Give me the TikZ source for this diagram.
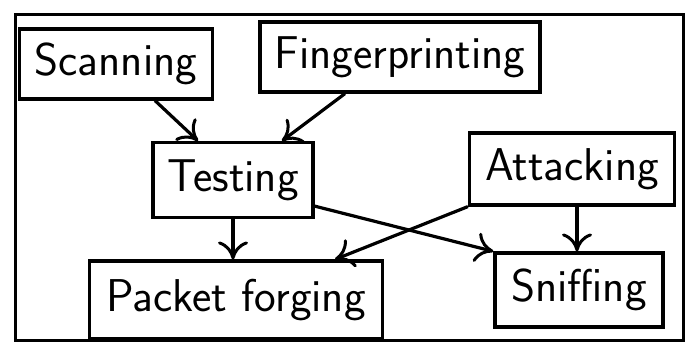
\documentclass[tikz,border=0pt]{standalone}
\usepackage{fontspec}
\usepackage{tikz}
\usetikzlibrary{arrows.meta,positioning,calc}
\tikzset{
    stageBox/.style={
        rectangle,
        draw,
        line width=3.2pt,
        font=\fontsize{46}{54}\selectfont\sffamily,
        align=center,
        inner sep=0pt
    },
    % Arrows
    flowArrow/.style={-{To[length=18pt,width=30pt,line width=3pt]}, line width=3.2pt},
    frameBox/.style={draw, line width=3pt}
}

\begin{document}
\begin{tikzpicture}[x=1pt,y=-1pt]
    \useasboundingbox (0,0) rectangle (692,350);
    \draw[frameBox] (15,15) rectangle (683,340);

    \node[stageBox, minimum width=193pt, minimum height=70pt] (scan) at (116,64) {Scanning};
    \node[stageBox, minimum width=280pt, minimum height=70pt] (finger) at (400,57) {Fingerprinting};
    \node[stageBox, minimum width=160pt, minimum height=75pt] (test) at (233,180) {Testing};
    \node[stageBox, minimum width=205pt, minimum height=72pt] (attack) at (572,169) {Attacking};
    \node[stageBox, minimum width=293pt, minimum height=78pt] (forge) at (236,300) {Packet forging};
    \node[stageBox, minimum width=168pt, minimum height=74pt] (sniff) at (579,290) {Sniffing};

    \draw[flowArrow] ([xshift=39pt]scan.south) -- ([xshift=-35pt]test.north);
    \draw[flowArrow] ([xshift=-55pt]finger.south) -- ([xshift=49pt]test.north);
    \draw[flowArrow] (test.south) -- (test.south |- forge.north);
    \draw[flowArrow] ([yshift=13pt]test.south east) -- (sniff.north west);
    \draw[flowArrow] (attack.south west) -- ([xshift=99pt]forge.north);
    \draw[flowArrow] ([xshift=5pt]attack.south) -- ([xshift=5pt]attack.south |- sniff.north);
\end{tikzpicture}
\end{document}
